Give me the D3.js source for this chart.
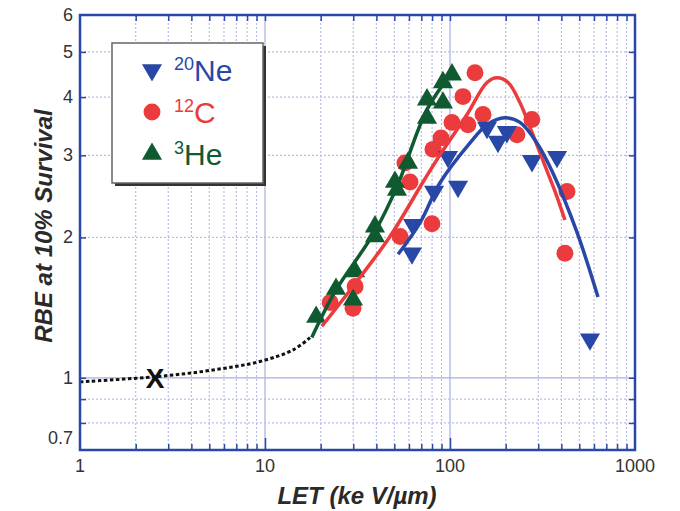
<!DOCTYPE html>
<html lang="en">
<head>
<meta charset="UTF-8">
<title>RBE vs LET</title>
<script src="https://cdn.jsdelivr.net/npm/d3@7"></script>
<style>
  body { margin: 0; background: #fff; }
  svg { display: block; font-family: "Liberation Sans", Arial, sans-serif; }
</style>
</head>
<body>
<script>
// ticks
const xTicks = [1, 10, 100, 1000]
const yTicks = [0.7, 1, 2, 3, 4, 5, 6]
const xMinor = [2, 3, 4, 5, 6, 7, 8, 9, 20, 30, 40, 50, 60, 70, 80, 90, 200, 300, 400, 500, 600, 700, 800, 900]
const yMinor = [0.8, 0.9, 2, 3, 4, 5]

// 3He points
const heLET = [18.9, 24.2, 29.9, 30.7, 39.3, 39.3, 51.7, 50.4, 59.3, 75.1, 75.1, 91.6, 91.6, 102.5]
const heRBE = [1.35, 1.55, 1.47, 1.69, 2.01, 2.11, 2.53, 2.63, 2.89, 3.61, 3.95, 3.89, 4.30, 4.47]
// 12C points
const cLET = [22.5, 30.7, 29.9, 53.7, 57.1, 60.8, 79.9, 80.9, 89.4, 102.5, 125, 117.5, 136.5, 150.8, 230, 277, 429, 418]
const cRBE = [1.45, 1.57, 1.41, 2.01, 2.89, 2.63, 2.14, 3.09, 3.27, 3.53, 3.49, 4.01, 4.51, 3.67, 3.32, 3.58, 2.51, 1.85]
// 20Ne points
const neLET = [62.3, 63.1, 82, 110.5, 97.5, 158.5, 181.7, 203, 277.5, 378.8, 571]
const neRBE = [1.85, 2.13, 2.51, 2.57, 2.98, 3.44, 3.21, 3.37, 2.92, 2.98, 1.21]

// fitted curves
const heFitLET = [17.9, 23.9, 39.3, 51.7, 75.1, 103.8]
const heFitRBE = [1.22, 1.53, 2.06, 2.57, 3.76, 4.54]
const cFitLET = [20.3, 29.9, 47.4, 71.5, 85.1, 123.6, 158.5, 179.5, 206, 239, 277.5, 326, 369.6, 418]
const cFitRBE = [1.29, 1.57, 2.01, 2.63, 2.94, 3.67, 4.30, 4.40, 4.30, 3.89, 3.36, 2.85, 2.51, 2.18]
const neFitLET = [52.4, 68.8, 88.3, 128.3, 158.5, 198.3, 239, 295, 360, 486, 631]
const neFitRBE = [1.84, 2.15, 2.62, 3.19, 3.49, 3.61, 3.53, 3.19, 2.75, 2.05, 1.49]
// low-LET extrapolation (dotted) and the X-ray reference point
const lowLET = [1, 2.6, 5.04, 9.4, 14.2, 17.5]
const lowRBE = [0.98, 1.006, 1.037, 1.084, 1.148, 1.219]
const xrayLET = [2.55]
const xrayRBE = [1.0]

const blue = "#2847a6", red = "#ec3b3d", green = "#0f5a30"
const width = 680, height = 511
const mLeft = 80, mRight = 635, mTop = 15, mBottom = 450

const svg = d3.select("body").append("svg").attr("width", width).attr("height", height)

const x = d3.scaleLog().domain([1, 1000]).range([mLeft, mRight])
const y = d3.scaleLog().domain([0.7, 6]).range([mBottom, mTop])

// grid
const grid = svg.append("g")
grid.selectAll(".vminor").data(xMinor).enter().append("line")
    .attr("x1", d => x(d)).attr("x2", d => x(d)).attr("y1", mTop).attr("y2", mBottom)
    .attr("stroke", "#b9bde6").attr("stroke-width", 1.2).attr("stroke-dasharray", "2,2")
grid.selectAll(".vmajor").data([10, 100]).enter().append("line")
    .attr("x1", d => x(d)).attr("x2", d => x(d)).attr("y1", mTop).attr("y2", mBottom)
    .attr("stroke", "#a7b0de").attr("stroke-width", 1.2)
grid.selectAll(".hminor").data(yMinor).enter().append("line")
    .attr("x1", mLeft).attr("x2", mRight).attr("y1", d => y(d)).attr("y2", d => y(d))
    .attr("stroke", "#b9bde6").attr("stroke-width", 1.2).attr("stroke-dasharray", "2,2")
grid.append("line")
    .attr("x1", mLeft).attr("x2", mRight).attr("y1", y(1)).attr("y2", y(1))
    .attr("stroke", "#a7b0de").attr("stroke-width", 1.2)

// axes: ticks inside, labels drawn separately
const axB = d3.axisTop(x).tickValues(xMinor.concat([10, 100])).tickSize(6).tickFormat("")
svg.append("g").attr("transform", `translate(0,${mBottom})`).call(axB)
    .call(g => g.select(".domain").remove())
    .call(g => g.selectAll(".tick line").attr("stroke", blue).attr("stroke-width", 1.5)
        .attr("y2", d => (d === 10 || d === 100) ? -12 : -6))
const axT = d3.axisBottom(x).tickValues(xMinor.concat([10, 100])).tickSize(6).tickFormat("")
svg.append("g").attr("transform", `translate(0,${mTop})`).call(axT)
    .call(g => g.select(".domain").remove())
    .call(g => g.selectAll(".tick line").attr("stroke", blue).attr("stroke-width", 1.5))
const axL = d3.axisRight(y).tickValues(yMinor.concat([1])).tickSize(6).tickFormat("")
svg.append("g").attr("transform", `translate(${mLeft},0)`).call(axL)
    .call(g => g.select(".domain").remove())
    .call(g => g.selectAll(".tick line").attr("stroke", blue).attr("stroke-width", 1.5))
const axR = d3.axisLeft(y).tickValues(yMinor.concat([1])).tickSize(6).tickFormat("")
svg.append("g").attr("transform", `translate(${mRight},0)`).call(axR)
    .call(g => g.select(".domain").remove())
    .call(g => g.selectAll(".tick line").attr("stroke", blue).attr("stroke-width", 1.5))

svg.append("g").selectAll("text").data(xTicks).enter().append("text")
    .attr("x", d => x(d)).attr("y", 472).attr("text-anchor", "middle")
    .attr("font-size", 18).attr("fill", "#333").text(d => d)
svg.append("g").selectAll("text").data(yTicks).enter().append("text")
    .attr("x", 73).attr("y", d => d === 0.7 ? 444 : y(d) + 6).attr("text-anchor", "end")
    .attr("font-size", 18).attr("fill", "#333").text(d => d)

svg.append("text").attr("transform", "translate(52,226) rotate(-90)")
    .attr("text-anchor", "middle").attr("font-size", 24).attr("font-weight", "bold")
    .attr("font-style", "italic").attr("fill", "#2a2a2a").text("RBE at 10% Survival")
svg.append("text").attr("x", 357).attr("y", 504)
    .attr("text-anchor", "middle").attr("font-size", 24).attr("font-weight", "bold")
    .attr("font-style", "italic").attr("fill", "#2a2a2a").text("LET (ke V/\u00b5m)")

// data
const zip = (a, b) => a.map((v, i) => [v, b[i]])
const line = d3.line().x(d => x(d[0])).y(d => y(d[1])).curve(d3.curveCatmullRom.alpha(0.5))

svg.append("path").datum(zip(lowLET, lowRBE)).attr("d", line)
    .attr("fill", "none").attr("stroke", "#111").attr("stroke-width", 3).attr("stroke-dasharray", "3.5,2.5")

const triUp = d3.symbol().type(d3.symbolTriangle).size(175)
const circ = d3.symbol().type(d3.symbolCircle).size(225)

svg.append("g").selectAll("path").data(zip(cLET, cRBE)).enter().append("path")
    .attr("d", circ).attr("transform", d => `translate(${x(d[0])},${y(d[1])})`).attr("fill", red)
svg.append("g").selectAll("path").data(zip(neLET, neRBE)).enter().append("path")
    .attr("d", triUp).attr("transform", d => `translate(${x(d[0])},${y(d[1])}) rotate(180)`).attr("fill", blue)
svg.append("g").selectAll("path").data(zip(heLET, heRBE)).enter().append("path")
    .attr("d", triUp).attr("transform", d => `translate(${x(d[0])},${y(d[1])})`).attr("fill", green)

svg.append("path").datum(zip(cFitLET, cFitRBE)).attr("d", line)
    .attr("fill", "none").attr("stroke", red).attr("stroke-width", 3.5)
svg.append("path").datum(zip(neFitLET, neFitRBE)).attr("d", line)
    .attr("fill", "none").attr("stroke", blue).attr("stroke-width", 3.5)
svg.append("path").datum(zip(heFitLET, heFitRBE)).attr("d", line)
    .attr("fill", "none").attr("stroke", green).attr("stroke-width", 3.5)

svg.append("g").selectAll("text").data(zip(xrayLET, xrayRBE)).enter().append("text")
    .attr("x", d => x(d[0])).attr("y", d => y(d[1]) + 10).attr("text-anchor", "middle")
    .attr("font-size", 28).attr("font-weight", "bold").attr("fill", "#111").text("X")

// frame
svg.append("rect").attr("x", mLeft).attr("y", mTop).attr("width", mRight - mLeft).attr("height", mBottom - mTop)
    .attr("fill", "none").attr("stroke", blue).attr("stroke-width", 2.5)

// legend
const lg = svg.append("g").attr("transform", "translate(112,43)")
lg.append("rect").attr("x", 3).attr("y", 3).attr("width", 151).attr("height", 140).attr("fill", "#333")
lg.append("rect").attr("width", 151).attr("height", 140).attr("fill", "#fff").attr("stroke", "#666").attr("stroke-width", 1.5)
const legendItems = [
  {mass: "20", name: "Ne", colour: blue, sym: "down"},
  {mass: "12", name: "C", colour: red, sym: "circle"},
  {mass: "3", name: "He", colour: green, sym: "up"}
]
legendItems.forEach((it, i) => {
  const cy = 27 + i * 42
  lg.append("path").attr("d", it.sym === "circle" ? circ : triUp)
    .attr("transform", `translate(40,${cy})${it.sym === "down" ? " rotate(180)" : ""}`).attr("fill", it.colour)
  const t = lg.append("text").attr("x", 62).attr("y", cy + 11).attr("fill", it.colour).attr("font-size", 30)
  t.append("tspan").attr("font-size", 18).attr("dy", -11).text(it.mass)
  t.append("tspan").attr("dy", 11).text(it.name)
})
</script>
</body>
</html>
